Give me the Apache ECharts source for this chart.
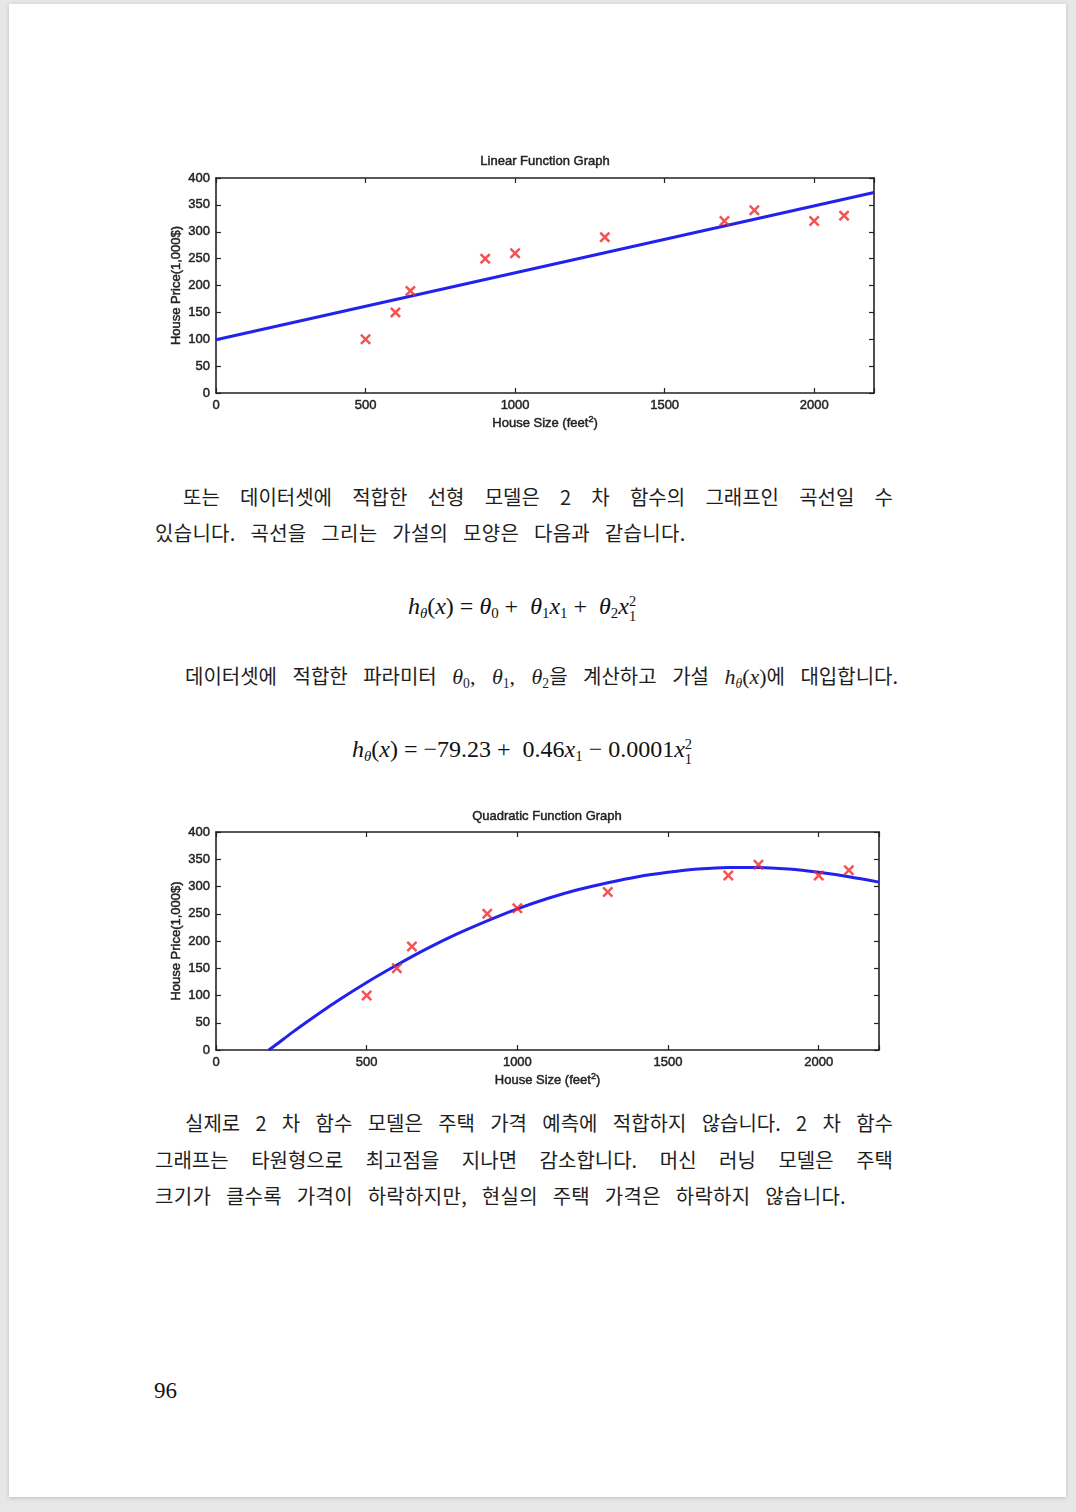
<!DOCTYPE html>
<html>
<head>
<meta charset="utf-8">
<script src="https://cdn.jsdelivr.net/npm/echarts@6/dist/echarts.min.js"></script>
<style>
  html, body { margin: 0; padding: 0; }
  body { width: 1076px; height: 1512px; background: #e7e7e7; position: relative; overflow: hidden; }
  #page { position: absolute; left: 9px; top: 4px; width: 1057px; height: 1493px; background: #fff;
          box-shadow: 0 1px 4px rgba(0,0,0,0.18); }
  .chart { position: absolute; width: 760px; height: 300px; }
  .ln { position: absolute; height: 36px; line-height: 36px; font-family: "Noto Sans CJK KR", sans-serif;
        font-size: 20px; color: #1e1e1e; white-space: nowrap; word-spacing: 10px; letter-spacing: 0.3px; }
  .just { text-align: justify; text-align-last: justify; word-spacing: 4px; letter-spacing: 0; }
  .math { font-family: "Liberation Serif", serif; font-size: 22px; }
  .f { position: absolute; left: 150px; width: 744px; text-align: center; height: 36px; line-height: 36px;
       font-family: "Liberation Serif", serif; font-size: 24px; color: #111; white-space: nowrap; }
  .f i, .ln i { font-style: italic; }
  sub { font-size: 0.62em; vertical-align: -0.3em; line-height: 0; }
  .ss { display: inline-block; vertical-align: -0.5em; line-height: 1.05em; font-size: 0.6em; text-align: left; }
  .ss span { display: block; }
  #pnum { position: absolute; left: 154px; top: 1378px; font-family: "Liberation Serif", serif; font-size: 23px; color: #111; }
</style>
</head>
<body>
<div id="page"></div>

<div id="chart1" class="chart" style="left:150px; top:140px;"></div>

<div class="ln just" style="left:183px; top:479px; width:710px;">또는 데이터셋에 적합한 선형 모델은 2 차 함수의 그래프인 곡선일 수</div>
<div class="ln" style="left:155px; top:515px;">있습니다. 곡선을 그리는 가설의 모양은 다음과 같습니다.</div>

<div class="f" style="top:588px;"><i>h</i><sub><i>θ</i></sub>(<i>x</i>) = <i>θ</i><sub>0</sub> + &nbsp;<i>θ</i><sub>1</sub><i>x</i><sub>1</sub> + &nbsp;<i>θ</i><sub>2</sub><i>x</i><span class="ss"><span>2</span><span>1</span></span></div>

<div class="ln just" style="left:185px; top:658px; width:713px;">데이터셋에 적합한 파라미터 <span class="math"><i>θ</i><sub>0</sub>, <i>θ</i><sub>1</sub>, <i>θ</i><sub>2</sub></span>을 계산하고 가설 <span class="math"><i>h</i><sub><i>θ</i></sub>(<i>x</i>)</span>에 대입합니다.</div>

<div class="f" style="top:731px;"><i>h</i><sub><i>θ</i></sub>(<i>x</i>) = −79.23 + &nbsp;0.46<i>x</i><sub>1</sub> − 0.0001<i>x</i><span class="ss"><span>2</span><span>1</span></span></div>

<div id="chart2" class="chart" style="left:150px; top:795px;"></div>

<div class="ln just" style="left:185px; top:1105px; width:708px;">실제로 2 차 함수 모델은 주택 가격 예측에 적합하지 않습니다. 2 차 함수</div>
<div class="ln just" style="left:155px; top:1142px; width:738px;">그래프는 타원형으로 최고점을 지나면 감소합니다. 머신 러닝 모델은 주택</div>
<div class="ln" style="left:155px; top:1178px;">크기가 클수록 가격이 하락하지만, 현실의 주택 가격은 하락하지 않습니다.</div>

<div id="pnum">96</div>

<script>
// house sizes (feet^2) and prices (1,000$)
var houseSize = [500, 600, 650, 900, 1000, 1300, 1700, 1800, 2000, 2100];
var housePrice = [100, 150, 190, 250, 260, 290, 320, 340, 320, 330];

// fitted straight line, read at both ends of the plot
var linearX = [0, 2200];
var linearY = [99, 373];

// fitted quadratic curve
var quadX = [175, 200, 250, 300, 400, 500, 600, 700, 800, 900, 1000, 1100, 1200, 1300, 1400, 1500, 1600, 1700, 1800, 1900, 2000, 2100, 2200];
var quadY = [0, 10, 31, 51, 89, 124, 156, 186, 213, 237, 259, 278, 294, 307, 318, 326, 332, 335, 335, 332, 326, 318, 308];

var xTicks = [0, 500, 1000, 1500, 2000];

var crossPath = 'path://M0,1.6L1.6,0L5,3.4L8.4,0L10,1.6L6.6,5L10,8.4L8.4,10L5,6.6L1.6,10L0,8.4L3.4,5Z';
var axisColor = '#222';
var font = 'Liberation Sans';
// a thin outline makes the small labels as heavy as in the scanned page
var txt = { color: axisColor, fontSize: 13, fontFamily: font, textBorderColor: '#333', textBorderWidth: 0.5 };

function pairs(xs, ys) {
    var out = [];
    for (var i = 0; i < xs.length; i++) {
        out.push([xs[i], ys[i]]);
    }
    return out;
}

function merge(a, b) {
    var o = {};
    for (var k in a) o[k] = a[k];
    for (var j in b) o[j] = b[j];
    return o;
}

function frameAxis(extra) {
    return merge({
        type: 'value',
        show: true,
        axisLine: { show: true, onZero: false, lineStyle: { color: axisColor, width: 1.6 } },
        axisTick: { show: true, inside: true, length: 5, lineStyle: { color: axisColor, width: 1.2 } },
        splitLine: { show: false },
        axisLabel: { show: false }
    }, extra);
}

function makeOption(title, titleLeft, fitData, smooth) {
    return {
        animation: false,
        title: {
            text: title,
            left: titleLeft,
            top: 15,
            padding: 0,
            textAlign: 'center',
            textStyle: merge(txt, { fontWeight: 'normal' })
        },
        grid: fitData.grid,
        xAxis: [
            frameAxis({
                position: 'bottom', min: 0, max: 2200, interval: 500,
                axisLabel: merge(txt, {
                    show: true, margin: 6,
                    formatter: function (v) { return xTicks.indexOf(v) >= 0 ? String(v) : ''; }
                }),
                name: '{a|House Size (feet}{s|2}{a|)}',
                nameLocation: 'middle',
                nameGap: 22,
                nameMoveOverlap: false,
                nameTextStyle: {
                    rich: {
                        a: txt,
                        s: merge(txt, { fontSize: 9, verticalAlign: 'top', padding: [0, 0, 7, 0] })
                    }
                }
            }),
            frameAxis({ position: 'top', min: 0, max: 2200, interval: 500 })
        ],
        yAxis: [
            frameAxis({
                position: 'left', min: 0, max: 400, interval: 50,
                axisLabel: merge(txt, { show: true, margin: 6 }),
                name: 'House Price(1,000$)',
                nameLocation: 'middle',
                nameGap: 33,
                nameMoveOverlap: false,
                nameTextStyle: txt
            }),
            frameAxis({ position: 'right', min: 0, max: 400, interval: 50 })
        ],
        series: [
            {
                type: 'line',
                data: fitData.line,
                smooth: smooth,
                showSymbol: false,
                lineStyle: { color: '#2222ee', width: 3 },
                clip: true,
                z: 2
            },
            {
                type: 'scatter',
                data: pairs(houseSize, housePrice),
                symbol: crossPath,
                symbolSize: 11,
                itemStyle: { color: '#f02828' },
                z: 3
            },
            {
                // keeps the top and right frame axes alive
                type: 'line',
                xAxisIndex: 1,
                yAxisIndex: 1,
                data: [],
                silent: true
            }
        ]
    };
}

var chart1 = echarts.init(document.getElementById('chart1'));
chart1.setOption(makeOption('Linear Function Graph', 395, {
    grid: { left: 66, top: 38, width: 658, height: 215 },
    line: pairs(linearX, linearY)
}, false));

var chart2 = echarts.init(document.getElementById('chart2'));
chart2.setOption(makeOption('Quadratic Function Graph', 397, {
    grid: { left: 66, top: 37, width: 663, height: 218 },
    line: pairs(quadX, quadY)
}, 0.3));
</script>
</body>
</html>
